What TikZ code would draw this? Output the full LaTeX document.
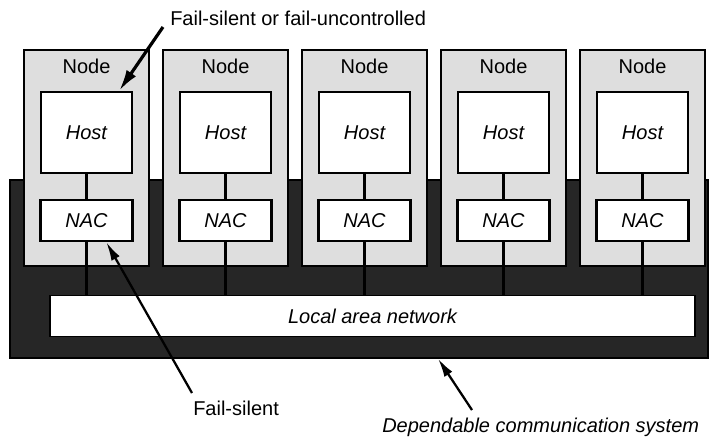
\documentclass[tikz,border=0pt]{standalone}
\usepackage{fontspec}
\setmainfont{Liberation Sans}
\usetikzlibrary{arrows.meta,calc}

\begin{document}
\begin{tikzpicture}[x=0.75pt,y=-0.75pt,
  txt/.style={font=\fontsize{15}{18}\selectfont,inner sep=0pt},
  band/.style={fill=black!85,draw=black,line width=1pt},
  nodebox/.style={draw,line width=1.8pt,fill=black!13,minimum width=93.75pt,minimum height=162pt,inner sep=0pt},
  hostbox/.style={draw,line width=1.8pt,fill=white,minimum width=68.25pt,minimum height=60.75pt,inner sep=0pt,font=\fontsize{15}{18}\selectfont\itshape},
  nacbox/.style={draw,line width=1.8pt,fill=white,minimum width=69pt,minimum height=30.75pt,inner sep=0pt,font=\fontsize{15}{18}\selectfont\itshape},
  lanbox/.style={draw,line width=1pt,fill=white,minimum width=483.75pt,minimum height=30.75pt,inner sep=0pt,font=\fontsize{15}{18}\selectfont\itshape},
  wire/.style={line width=1.6pt},
  bigarrow/.style={line width=2.4pt,-{Latex[length=16pt,width=8.5pt]}},
  smallarrow/.style={line width=1.7pt,-{Latex[length=14pt,width=7pt]}}
]
\useasboundingbox (0,0) rectangle (710,439);

% dependable communication system (dark band)
\node[band,minimum width=523.5pt,minimum height=133.5pt,inner sep=0pt] (dcs) at (359,269) {};

% local area network
\node[lanbox] (lan) at (372.5,316) {Local area network};

% the five nodes
\foreach \i in {0,...,4}{
  \pgfmathsetmacro\cx{86.5+139*\i}
  \node[nodebox] (n\i) at (\cx,158) {};
  \node[txt] (nl\i) at (\cx,66) {Node};
  \node[hostbox] (h\i) at (\cx,132.5) {Host};
  \node[nacbox] (a\i) at (\cx,220.5) {NAC};
  \draw[wire] (h\i.south) -- (a\i.north);
  \draw[wire] (a\i.south) -- (a\i.south |- lan.north);
}

% labels
\node[txt,anchor=base west] (fsu) at (170,25) {Fail-silent or fail-uncontrolled};
\node[txt,anchor=base west] (fs) at (193,415) {Fail-silent};
\node[txt,anchor=base west,font=\fontsize{15}{18}\selectfont\itshape] (dep) at (382,432) {Dependable communication system};

% pointers
\coordinate (fsuTail) at ($(fsu.base west)+(-7,2)$);
\coordinate (fsTail) at ($(fs.base west)+(-1,-22)$);
\coordinate (depTail) at ($(dep.base west)+(90,-22)$);
\draw[bigarrow] (fsuTail) -- ($(h0.north west)!0.85!(h0.north east)$);
\draw[smallarrow] (fsTail) -- ($(a0.south west)!0.71!(a0.south east)$);
\draw[smallarrow] (depTail) -- ($(dcs.south west)!0.613!(dcs.south east)$);
\end{tikzpicture}
\end{document}
